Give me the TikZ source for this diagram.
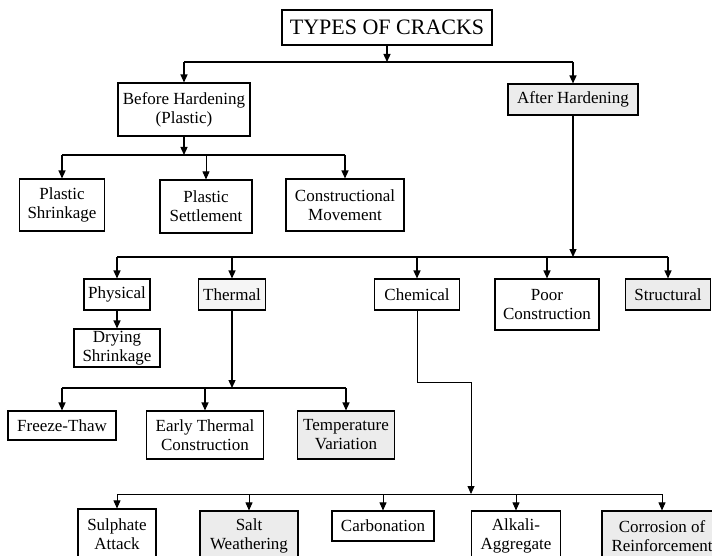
\documentclass[tikz,border=0pt]{standalone}
\usepackage{fontspec}
\setmainfont{Liberation Serif}
\usetikzlibrary{arrows.meta}
\begin{document}
\begin{tikzpicture}[x=1pt,y=-1pt,
  box/.style={draw, line width=1.1pt, align=center, inner sep=0pt, font=\fontsize{17}{19}\selectfont},
  shaded/.style={fill=gray!15},
  conn/.style={line width=1.3pt},
  thinconn/.style={line width=0.8pt},
  arr/.style={-{Triangle[length=8pt,width=7pt]}}]
\useasboundingbox (0,0) rectangle (712,556);
\clip (0,0) rectangle (712,556);
\fill[white] (0,0) rectangle (712,556);

% nodes
\node[box, minimum width=210, minimum height=35, font=\fontsize{22}{24}\selectfont] (title) at (387,27.5) {TYPES OF CRACKS};
\node[box, minimum width=132, minimum height=53] (bh) at (184,109.5) {Before Hardening\\(Plastic)};
\node[box, shaded, minimum width=130, minimum height=31] (ah) at (573,99.5) {After Hardening};

\node[box, minimum width=85, minimum height=52] (ps) at (62,205) {Plastic\\Shrinkage};
\node[box, minimum width=92, minimum height=53] (pst) at (206,206.5) {Plastic\\Settlement};
\node[box, minimum width=118, minimum height=52] (cm) at (345,205) {Constructional\\Movement};

\node[box, minimum width=66, minimum height=31] (phys) at (117,294.5) {Physical};
\node[box, fill=gray!8, minimum width=67, minimum height=31] (therm) at (232,294.5) {Thermal};
\node[box, minimum width=85, minimum height=31] (chem) at (417,294.5) {Chemical};
\node[box, minimum width=104, minimum height=51] (poor) at (547,304.5) {Poor\\Construction};
\node[box, shaded, minimum width=85, minimum height=31] (struct) at (668,294.5) {Structural};

\node[box, minimum width=86, minimum height=38] (dry) at (117,348) {Drying\\Shrinkage};

\node[box, minimum width=108, minimum height=29] (ft) at (62,425.5) {Freeze-Thaw};
\node[box, minimum width=117, minimum height=48] (et) at (205,435) {Early Thermal\\Construction};
\node[box, shaded, minimum width=97, minimum height=48] (tv) at (346,435) {Temperature\\Variation};

\node[box, minimum width=78, minimum height=50] (sa) at (117,534) {Sulphate\\Attack};
\node[box, shaded, minimum width=98, minimum height=50] (sw) at (249,536) {Salt\\Weathering};
\node[box, minimum width=102, minimum height=30] (carb) at (383,526) {Carbonation};
\node[box, minimum width=89, minimum height=50] (aa) at (516,536) {Alkali-\\Aggregate};
\node[box, shaded, minimum width=120, minimum height=50] (cor) at (662,536) {Corrosion of\\Reinforcement};

% junction coordinates
\coordinate (j0) at (387,62);
\coordinate (j0l) at (184,62);
\coordinate (j0r) at (573,62);
\coordinate (j1) at (184,155);
\coordinate (j1l) at (62,155);
\coordinate (j1m) at (206,155);
\coordinate (j1r) at (345,155);
\coordinate (j2) at (573,257);
\coordinate (j2a) at (117,257);
\coordinate (j2b) at (232,257);
\coordinate (j2c) at (417,257);
\coordinate (j2d) at (547,257);
\coordinate (j2e) at (668,257);
\coordinate (j3) at (232,388);
\coordinate (j3l) at (62,388);
\coordinate (j3m) at (205,388);
\coordinate (j3r) at (346,388);
\coordinate (cbend) at (471,382);
\coordinate (j4) at (471,494);
\coordinate (j4a) at (117,494);
\coordinate (j4b) at (249,494);
\coordinate (j4c) at (383,494);
\coordinate (j4d) at (516,494);
\coordinate (j4e) at (662,494);

% level 0
\draw[conn,arr] (title) -- (j0);
\draw[conn] (j0l) -- (j0r);
\draw[conn,arr] (j0l) -- (bh);
\draw[conn,arr] (j0r) -- (ah);

% before hardening
\draw[conn,arr] (bh) -- (j1);
\draw[conn] (j1l) -- (j1r);
\draw[conn,arr] (j1l) -- (ps);
\draw[thinconn,arr] (j1m) -- (pst);
\draw[conn,arr] (j1r) -- (cm);

% after hardening
\draw[conn,arr] (ah) -- (j2);
\draw[conn] (j2a) -- (j2e);
\draw[conn,arr] (j2a) -- (phys);
\draw[conn,arr] (j2b) -- (therm);
\draw[conn,arr] (j2c) -- (chem);
\draw[conn,arr] (j2d) -- (poor);
\draw[conn,arr] (j2e) -- (struct);

% physical
\draw[conn,arr] (phys) -- (dry);

% thermal
\draw[conn,arr] (therm) -- (j3);
\draw[conn] (j3l) -- (j3r);
\draw[conn,arr] (j3l) -- (ft);
\draw[conn,arr] (j3m) -- (et);
\draw[conn,arr] (j3r) -- (tv);

% chemical
\draw[thinconn,arr] (chem) |- (cbend) -- (j4);
\draw[thinconn] (j4a) -- (j4e);
\draw[thinconn,arr] (j4a) -- (sa);
\draw[thinconn,arr] (j4b) -- (sw);
\draw[thinconn,arr] (j4c) -- (carb);
\draw[thinconn,arr] (j4d) -- (aa);
\draw[thinconn,arr] (j4e) -- (cor);
\end{tikzpicture}
\end{document}
